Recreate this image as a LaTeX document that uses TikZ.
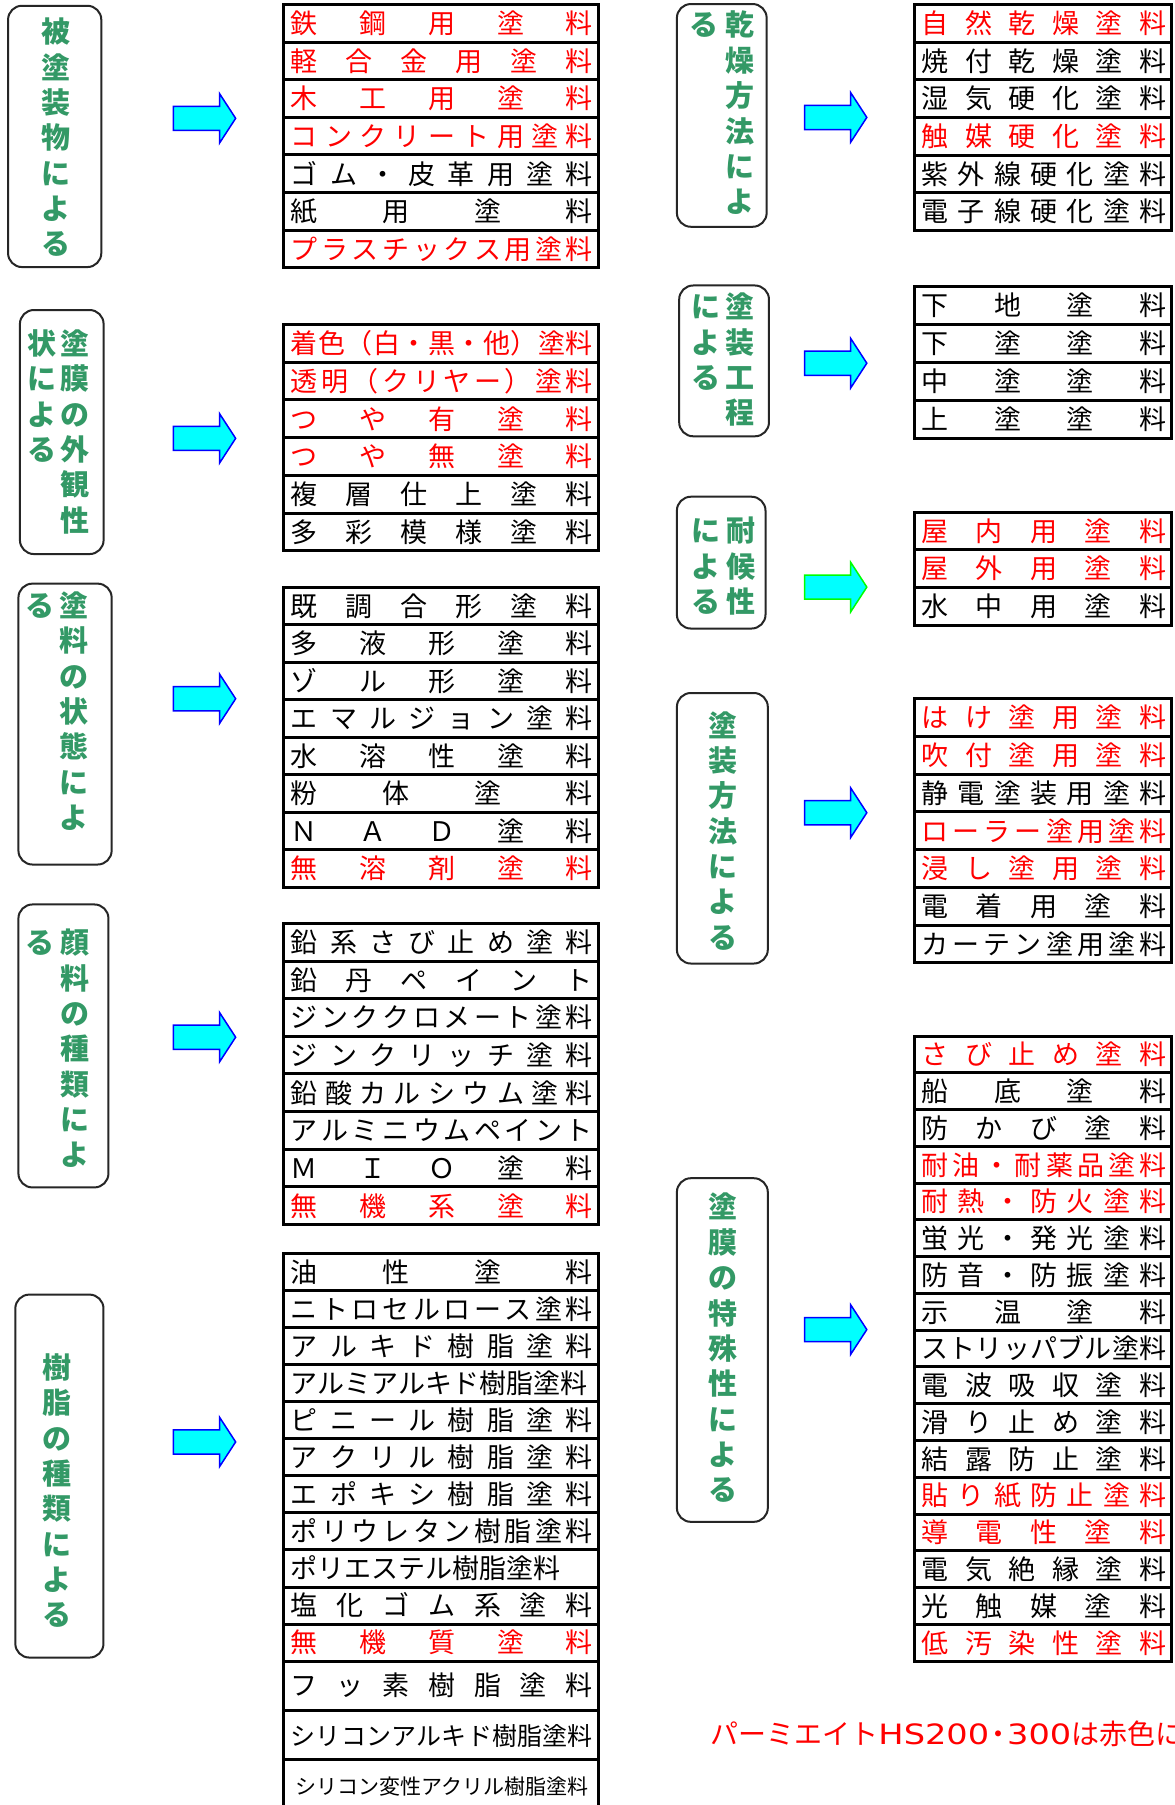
\documentclass[tikz,border=0pt]{standalone}
\usepackage{fontspec}
\usepackage{graphicx}
\usetikzlibrary{fit}
\newfontfamily\jpfont{Noto Sans CJK JP}
\newfontfamily\latfont{DejaVu Sans}
\definecolor{gtxt}{RGB}{51,153,102}
\definecolor{rd}{RGB}{255,0,0}
\definecolor{arrblue}{RGB}{0,0,255}
\definecolor{arrcyan}{RGB}{0,255,255}
\definecolor{arrgreen}{RGB}{0,255,0}
\newcommand\listparams[6]{\def\LN{#1}\def\LXa{#2}\def\LXb{#3}\def\LY{#4}\def\LH{#5}\def\TW{#6}}
\newcommand\D[1]{\makebox[\TW][s]{\spaceskip=0pt plus 1fil\relax #1}}
\newcommand\T[1]{\makebox[\TW][l]{#1}}
\newcommand\C[1]{\makebox[\TW][c]{#1}}
\newcommand\lrow[3]{%
  \node[rowbox, fit={({\LXa},{\LY+(#1-1)*\LH}) ({\LXb},{\LY+#1*\LH})}] (\LN-#1) {};
  \node[rowtext, text=#2] (\LN-#1t) at ([xshift=1pt]\LN-#1.center) {#3};
}
\newcommand\lrowxy[5]{%
  \node[rowbox, fit={({\LXa},{#2}) ({\LXb},{#3})}] (\LN-#1) {};
  \node[rowtext, text=#4] (\LN-#1t) at ([xshift=1pt]\LN-#1.center) {#5};
}
\newcommand\vcol[4]{\foreach \ch [count=\i] in {#4} {\node[gch] (#1-\i) at (#2,{#3+(\i-1)*30.7}) {\ch};}}
\begin{document}
\begin{tikzpicture}[x=1.151pt,y=-1.151pt,
  catbox/.style={draw=black!85, line width=2pt, rounded corners=14pt, inner sep=0pt, fill=white},
  gch/.style={text=gtxt, font={\jpfont\bfseries\fontsize{29pt}{29pt}\selectfont}, inner sep=0pt, text height=25.5pt, text depth=3.5pt},
  rowbox/.style={draw=black, line width=3pt, inner sep=0pt},
  rowtext/.style={inner sep=0pt, font={\jpfont\fontsize{27pt}{27pt}\selectfont}, text height=23.8pt, text depth=3.2pt},
  barrow/.pic={\path[pic actions] (-54,-10.5) -- (-14,-10.5) -- (-14,-21.5) -- (0,0) -- (-14,21.5) -- (-14,10.5) -- (-54,10.5) -- cycle;},
  arrb/.style={draw=arrblue, fill=arrcyan, line width=1.5pt},
  arrg/.style={draw=arrgreen, fill=arrcyan, line width=1.5pt}]
\useasboundingbox (0,0) rectangle (1020,1568);
\fill[white] (0,0) rectangle (1020,1568);
\clip (0,0) rectangle (1020,1568);

% ---------- category boxes ----------
\node[catbox, fit={(7,5) (88,232)}] (c1) {};
\vcol{c1t}{49}{27.5}{被,塗,装,物,に,よ,る}
\node[catbox, fit={(17.3,269.3) (90,481.3)}] (c2) {};
\vcol{c2r}{65}{298.3}{塗,膜,の,外,観,性}
\vcol{c2l}{36.6}{298.3}{状,に,よ,る}
\node[catbox, fit={(16,507) (97,751)}] (c3) {};
\vcol{c3r}{64.5}{526}{塗,料,の,状,態,に,よ}
\vcol{c3l}{35}{526}{る}
\node[catbox, fit={(16,785.7) (94.2,1031.5)}] (c4) {};
\vcol{c4r}{65}{819}{顔,料,の,種,類,に,よ}
\vcol{c4l}{35}{819}{る}
\node[catbox, fit={(13.3,1124.6) (89.9,1439.9)}] (c5) {};
\vcol{c5t}{49.3}{1188}{樹,脂,の,種,類,に,よ,る}
\node[catbox, fit={(588,3.5) (666,197)}] (c6) {};
\vcol{c6r}{643}{21.7}{乾,燥,方,法,に,よ}
\vcol{c6l}{611.5}{21.7}{る}
\node[catbox, fit={(590,248) (668,379)}] (c7) {};
\vcol{c7r}{643}{266.5}{塗,装,工,程}
\vcol{c7l}{613.5}{266.5}{に,よ,る}
\node[catbox, fit={(588,431.5) (665,546)}] (c8) {};
\vcol{c8r}{644}{461}{耐,候,性}
\vcol{c8l}{613.5}{461}{に,よ,る}
\node[catbox, fit={(588,602) (667,837)}] (c9) {};
\vcol{c9t}{628}{630}{塗,装,方,法,に,よ,る}
\node[catbox, fit={(588,1023.5) (667,1322)}] (c10) {};
\vcol{c10t}{628}{1048.5}{塗,膜,の,特,殊,性,に,よ,る}

% ---------- arrows ----------
\pic[arrb] (a1) at (204.7,102.8) {barrow};
\pic[arrb] (a2) at (204.7,380.8) {barrow};
\pic[arrb] (a3) at (204.7,607) {barrow};
\pic[arrb] (a4) at (204.7,901) {barrow};
\pic[arrb] (a5) at (204.7,1252.6) {barrow};
\pic[arrb] (a6) at (753,102) {barrow};
\pic[arrb] (a7) at (753,315.5) {barrow};
\pic[arrg] (a8) at (753,510) {barrow};
\pic[arrb] (a9) at (753,706) {barrow};
\pic[arrb] (a10) at (753,1155) {barrow};

% ---------- list 1 ----------
\listparams{L1}{246.3}{519.6}{4}{32.66}{302pt}
\lrow{1}{rd}{\D{鉄 鋼 用 塗 料}}
\lrow{2}{rd}{\D{軽 合 金 用 塗 料}}
\lrow{3}{rd}{\D{木 工 用 塗 料}}
\lrow{4}{rd}{\D{コ ン ク リ ー ト 用 塗 料}}
\lrow{5}{black}{\D{ゴ ム ・ 皮 革 用 塗 料}}
\lrow{6}{black}{\D{紙 用 塗 料}}
\lrow{7}{rd}{\D{プ ラ ス チ ッ ク ス 用 塗 料}}

% ---------- list 2 ----------
\listparams{L2}{246.3}{519.6}{281.8}{32.77}{302pt}
\lrow{1}{rd}{\D{着 色 （ 白 ・ 黒 ・ 他 ） 塗 料}}
\lrow{2}{rd}{\D{透 明 （ ク リ ヤ ー ） 塗 料}}
\lrow{3}{rd}{\D{つ や 有 塗 料}}
\lrow{4}{rd}{\D{つ や 無 塗 料}}
\lrow{5}{black}{\D{複 層 仕 上 塗 料}}
\lrow{6}{black}{\D{多 彩 模 様 塗 料}}

% ---------- list 3 ----------
\listparams{L3}{246.3}{519.6}{510}{32.58}{302pt}
\lrow{1}{black}{\D{既 調 合 形 塗 料}}
\lrow{2}{black}{\D{多 液 形 塗 料}}
\lrow{3}{black}{\D{ゾ ル 形 塗 料}}
\lrow{4}{black}{\D{エ マ ル ジ ョ ン 塗 料}}
\lrow{5}{black}{\D{水 溶 性 塗 料}}
\lrow{6}{black}{\D{粉 体 塗 料}}
\lrow{7}{black}{\D{Ｎ Ａ Ｄ 塗 料}}
\lrow{8}{rd}{\D{無 溶 剤 塗 料}}

% ---------- list 4 ----------
\listparams{L4}{246.3}{519.6}{802.2}{32.69}{302pt}
\lrow{1}{black}{\D{鉛 系 さ び 止 め 塗 料}}
\lrow{2}{black}{\D{鉛 丹 ペ イ ン ト}}
\lrow{3}{black}{\D{ジ ン ク ク ロ メ ー ト 塗 料}}
\lrow{4}{black}{\D{ジ ン ク リ ッ チ 塗 料}}
\lrow{5}{black}{\D{鉛 酸 カ ル シ ウ ム 塗 料}}
\lrow{6}{black}{\D{ア ル ミ ニ ウ ム ペ イ ン ト}}
\lrow{7}{black}{\D{Ｍ Ｉ Ｏ 塗 料}}
\lrow{8}{rd}{\D{無 機 系 塗 料}}

% ---------- list 5 ----------
\listparams{L5}{246.3}{519.6}{1089}{32.18}{302pt}
\lrow{1}{black}{\D{油 性 塗 料}}
\lrow{2}{black}{\D{ニ ト ロ セ ル ロ ー ス 塗 料}}
\lrow{3}{black}{\D{ア ル キ ド 樹 脂 塗 料}}
\lrow{4}{black}{\T{アルミアルキド樹脂塗料}}
\lrow{5}{black}{\D{ピ ニ ー ル 樹 脂 塗 料}}
\lrow{6}{black}{\D{ア ク リ ル 樹 脂 塗 料}}
\lrow{7}{black}{\D{エ ポ キ シ 樹 脂 塗 料}}
\lrow{8}{black}{\D{ポ リ ウ レ タ ン 樹 脂 塗 料}}
\lrow{9}{black}{\T{ポリエステル樹脂塗料}}
\lrow{10}{black}{\D{塩 化 ゴ ム 系 塗 料}}
\lrow{11}{rd}{\D{無 機 質 塗 料}}
\lrowxy{12}{1443}{1485.5}{black}{\D{フ ッ 素 樹 脂 塗 料}}
\lrowxy{13}{1485.5}{1528.6}{black}{\D{\fontsize{25pt}{25pt}\selectfont シ リ コ ン ア ル キ ド 樹 脂 塗 料}}
\lrowxy{14}{1528.6}{1572}{black}{\C{\fontsize{21pt}{21pt}\selectfont シリコン変性アクリル樹脂塗料}}

% ---------- list 6 ----------
\listparams{L6}{794}{1018}{4}{32.67}{245pt}
\lrow{1}{rd}{\D{自 然 乾 燥 塗 料}}
\lrow{2}{black}{\D{焼 付 乾 燥 塗 料}}
\lrow{3}{black}{\D{湿 気 硬 化 塗 料}}
\lrow{4}{rd}{\D{触 媒 硬 化 塗 料}}
\lrow{5}{black}{\D{紫 外 線 硬 化 塗 料}}
\lrow{6}{black}{\D{電 子 線 硬 化 塗 料}}

% ---------- list 7 ----------
\listparams{L7}{794}{1018}{249}{32.9}{245pt}
\lrow{1}{black}{\D{下 地 塗 料}}
\lrow{2}{black}{\D{下 塗 塗 料}}
\lrow{3}{black}{\D{中 塗 塗 料}}
\lrow{4}{black}{\D{上 塗 塗 料}}

% ---------- list 8 ----------
\listparams{L8}{794}{1018}{445}{32.67}{245pt}
\lrow{1}{rd}{\D{屋 内 用 塗 料}}
\lrow{2}{rd}{\D{屋 外 用 塗 料}}
\lrow{3}{black}{\D{水 中 用 塗 料}}

% ---------- list 9 ----------
\listparams{L9}{794}{1018}{607}{32.79}{245pt}
\lrow{1}{rd}{\D{は け 塗 用 塗 料}}
\lrow{2}{rd}{\D{吹 付 塗 用 塗 料}}
\lrow{3}{black}{\D{静 電 塗 装 用 塗 料}}
\lrow{4}{rd}{\D{ロ ー ラ ー 塗 用 塗 料}}
\lrow{5}{rd}{\D{浸 し 塗 用 塗 料}}
\lrow{6}{black}{\D{電 着 用 塗 料}}
\lrow{7}{black}{\D{カ ー テ ン 塗 用 塗 料}}

% ---------- list 10 ----------
\listparams{L10}{794}{1018}{900}{31.94}{245pt}
\lrow{1}{rd}{\D{さ び 止 め 塗 料}}
\lrow{2}{black}{\D{船 底 塗 料}}
\lrow{3}{black}{\D{防 か び 塗 料}}
\lrow{4}{rd}{\D{耐 油 ・ 耐 薬 品 塗 料}}
\lrow{5}{rd}{\D{耐 熱 ・ 防 火 塗 料}}
\lrow{6}{black}{\D{蛍 光 ・ 発 光 塗 料}}
\lrow{7}{black}{\D{防 音 ・ 防 振 塗 料}}
\lrow{8}{black}{\D{示 温 塗 料}}
\lrow{9}{black}{\D{ス ト リ ッ パ ブ ル 塗 料}}
\lrow{10}{black}{\D{電 波 吸 収 塗 料}}
\lrow{11}{black}{\D{滑 り 止 め 塗 料}}
\lrow{12}{black}{\D{結 露 防 止 塗 料}}
\lrow{13}{rd}{\D{貼 り 紙 防 止 塗 料}}
\lrow{14}{rd}{\D{導 電 性 塗 料}}
\lrow{15}{black}{\D{電 気 絶 縁 塗 料}}
\lrow{16}{black}{\D{光 触 媒 塗 料}}
\lrow{17}{rd}{\D{低 汚 染 性 塗 料}}

% ---------- note ----------
\node[anchor=base west, inner sep=0pt, text=rd, font={\jpfont\fontsize{28pt}{28pt}\selectfont}] (note) at (617,1515.2)
  {パーミエイト{\latfont\scalebox{1.2}[1]{HS200}}\makebox[18pt]{・}{\latfont\scalebox{1.2}[1]{300}}は赤色に};
\end{tikzpicture}
\end{document}
